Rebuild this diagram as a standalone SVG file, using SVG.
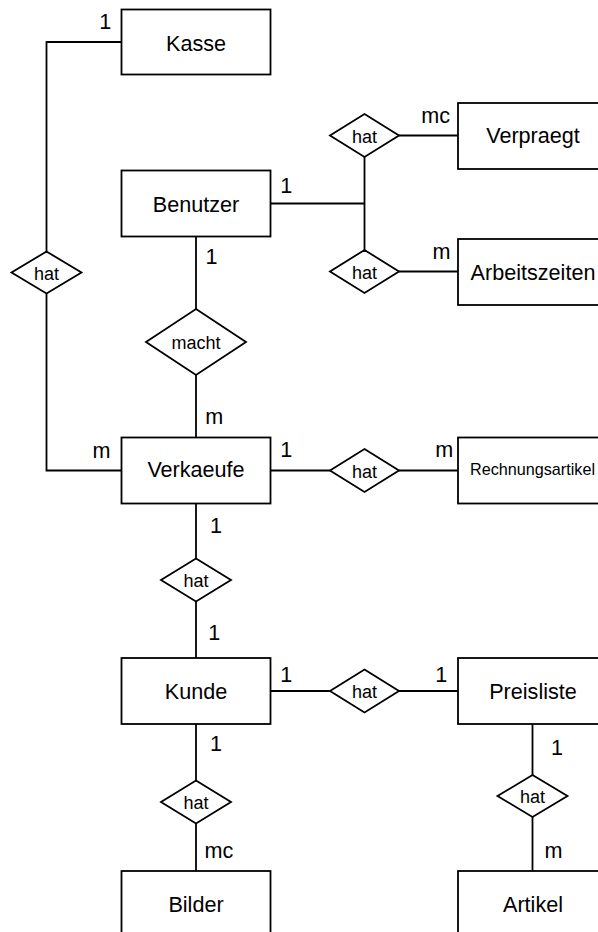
<svg xmlns="http://www.w3.org/2000/svg" width="598" height="932" viewBox="0 0 598 932">
<style>
.ent rect{fill:#fff;stroke:#000;stroke-width:1.8}
.rel polygon{fill:#fff;stroke:#000;stroke-width:1.8}
.conn path{fill:none;stroke:#000;stroke-width:1.8}
text{font-family:"Liberation Sans",Arial,Helvetica,sans-serif;fill:#000}
.et{font-size:21.6px;text-anchor:middle}
.rt{font-size:18px;text-anchor:middle}
.card{font-size:21.6px}
</style>
<rect width="598" height="932" fill="#fff"/>
<g id="connectors" class="conn">
<path d="M121.5,42 H46.5 V251.5"/>
<path d="M46.5,293.5 V470.5 H121.5"/>
<path d="M270.5,203.5 H364.5"/>
<path d="M364.5,157 V250"/>
<path d="M399,135.5 H458"/>
<path d="M399,271.5 H458"/>
<path d="M196,236.5 V309"/>
<path d="M196,375 V437.5"/>
<path d="M270.5,470.5 H330"/>
<path d="M399,470.5 H458"/>
<path d="M196,503.5 V558.5"/>
<path d="M196,601.5 V658"/>
<path d="M270.5,691 H330"/>
<path d="M399,691 H458"/>
<path d="M196,724 V780.5"/>
<path d="M196,823.5 V871"/>
<path d="M532.5,724 V775"/>
<path d="M532.5,817 V871"/>
</g>
<g id="kasse" class="ent"><rect x="121.5" y="9.5" width="149" height="65"/><text class="et" x="196" y="50.7">Kasse</text></g>
<g id="benutzer" class="ent"><rect x="121.5" y="170.5" width="149" height="66"/><text class="et" x="196" y="211.7">Benutzer</text></g>
<g id="verpraegt" class="ent"><rect x="458" y="103" width="149" height="66"/><text class="et" x="533" y="143.3">Verpraegt</text></g>
<g id="arbeitszeiten" class="ent"><rect x="458" y="239" width="149" height="66"/><text class="et" x="533" y="280">Arbeitszeiten</text></g>
<g id="verkaeufe" class="ent"><rect x="121.5" y="437.5" width="149" height="66"/><text class="et" x="196" y="476.7">Verkaeufe</text></g>
<g id="rechnungsartikel" class="ent"><rect x="458" y="437.5" width="149" height="66"/><text class="et" x="532.5" y="475" style="font-size:16.2px">Rechnungsartikel</text></g>
<g id="kunde" class="ent"><rect x="121.5" y="658" width="149" height="66"/><text class="et" x="196" y="699">Kunde</text></g>
<g id="preisliste" class="ent"><rect x="458" y="658" width="149" height="66"/><text class="et" x="533" y="699">Preisliste</text></g>
<g id="bilder" class="ent"><rect x="121.5" y="871" width="149" height="66"/><text class="et" x="196" y="911.7">Bilder</text></g>
<g id="artikel" class="ent"><rect x="458" y="871" width="149" height="66"/><text class="et" x="533" y="911.7">Artikel</text></g>
<g id="rel-kasse" class="rel"><polygon points="46.5,251.5 81.5,272.5 46.5,293.5 11.5,272.5"/><text class="rt" x="46.5" y="279.5">hat</text></g>
<g id="rel-macht" class="rel"><polygon points="196,309 246,342 196,375 146,342"/><text class="rt" x="196" y="349.3">macht</text></g>
<g id="rel-verpraegt" class="rel"><polygon points="364.5,114 399,135.5 364.5,157 330,135.5"/><text class="rt" x="364.5" y="142.7">hat</text></g>
<g id="rel-arbeitszeiten" class="rel"><polygon points="364.5,250 399,271.5 364.5,293 330,271.5"/><text class="rt" x="364.5" y="279.3">hat</text></g>
<g id="rel-rechnung" class="rel"><polygon points="364.5,449 399,470.5 364.5,492 330,470.5"/><text class="rt" x="364.5" y="478.3">hat</text></g>
<g id="rel-kunde" class="rel"><polygon points="196,558.5 231,580 196,601.5 161,580"/><text class="rt" x="196" y="586.7">hat</text></g>
<g id="rel-preisliste" class="rel"><polygon points="364.5,669.5 399,691 364.5,712.5 330,691"/><text class="rt" x="364.5" y="698.3">hat</text></g>
<g id="rel-bilder" class="rel"><polygon points="196,780.5 231,802 196,823.5 161,802"/><text class="rt" x="196" y="809.3">hat</text></g>
<g id="rel-artikel" class="rel"><polygon points="532.5,775 567.5,796 532.5,817 497.5,796"/><text class="rt" x="532.5" y="803.3">hat</text></g>
<g id="cardinalities" class="card">
<text x="99.3" y="29.3">1</text>
<text x="280.3" y="192.7">1</text>
<text x="205.6" y="264.3">1</text>
<text x="421.3" y="122.7">mc</text>
<text x="432.6" y="259.3">m</text>
<text x="205.3" y="424">m</text>
<text x="92.6" y="457.5">m</text>
<text x="280.3" y="457.2">1</text>
<text x="435.3" y="457">m</text>
<text x="209.9" y="532.7">1</text>
<text x="208.3" y="640">1</text>
<text x="280.3" y="681.7">1</text>
<text x="435.3" y="681.7">1</text>
<text x="209.9" y="750.7">1</text>
<text x="550.9" y="755">1</text>
<text x="204.6" y="858.3">mc</text>
<text x="544.6" y="858.3">m</text>
</g>
</svg>
